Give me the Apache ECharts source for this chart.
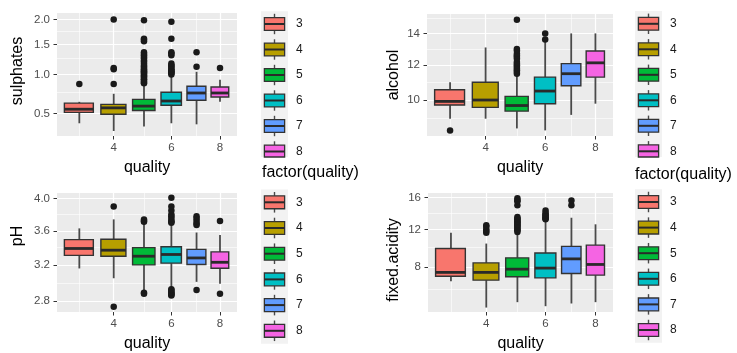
<!DOCTYPE html>
<html>
<head>
<meta charset="utf-8">
<script src="https://cdn.jsdelivr.net/npm/echarts@6/dist/echarts.min.js"></script>
<style>
  html, body { margin: 0; padding: 0; background: #fff; }
  #main { width: 737px; height: 353px; }
</style>
</head>
<body>
<div id="main"></div>
<script>
// quality groups and their ggplot hue colours
const qualities = [3, 4, 5, 6, 7, 8];
const boxColors = ['#F8766D', '#B79F00', '#00BA38', '#00BFC4', '#619CFF', '#F564E3'];
const qualityBreaks = [4, 6, 8];
const qualityMinor = [3, 5, 7];

// box stats per quality: [lower whisker, Q1, median, Q3, upper whisker]
const sulphatesBox = [
  [0.40, 0.51, 0.545, 0.615, 0.63],
  [0.33, 0.49, 0.56, 0.60, 0.73],
  [0.37, 0.53, 0.58, 0.66, 0.85],
  [0.40, 0.59, 0.64, 0.75, 0.97],
  [0.39, 0.65, 0.74, 0.83, 1.04],
  [0.63, 0.69, 0.74, 0.82, 0.92]
];
// outliers: [quality, value]
const sulphatesOut = [
  [3, 0.86],
  [4, 0.86], [4, 1.08], [4, 1.10], [4, 2.0],
  [5, 0.87], [5, 0.88], [5, 0.90], [5, 0.92], [5, 0.93], [5, 0.95], [5, 0.97], [5, 0.98],
  [5, 1.00], [5, 1.02], [5, 1.03], [5, 1.05], [5, 1.06], [5, 1.08], [5, 1.10], [5, 1.12],
  [5, 1.14], [5, 1.17], [5, 1.20], [5, 1.22], [5, 1.26], [5, 1.28], [5, 1.31], [5, 1.33],
  [5, 1.36], [5, 1.56], [5, 1.59], [5, 1.61], [5, 1.98],
  [6, 1.00], [6, 1.02], [6, 1.03], [6, 1.05], [6, 1.06], [6, 1.08], [6, 1.10], [6, 1.13],
  [6, 1.14], [6, 1.17], [6, 1.31], [6, 1.34], [6, 1.36], [6, 1.61], [6, 1.95],
  [7, 1.12], [7, 1.36],
  [8, 1.10]
];
const alcoholBox = [
  [9.0, 9.725, 9.925, 10.575, 11.0],
  [9.0, 9.6, 10.0, 11.0, 13.1],
  [8.5, 9.4, 9.7, 10.2, 11.4],
  [8.4, 9.8, 10.5, 11.3, 13.5],
  [9.2, 10.8, 11.5, 12.1, 14.0],
  [9.8, 11.3, 12.15, 12.88, 14.0]
];
const alcoholOut = [
  [3, 8.4],
  [5, 11.5], [5, 11.6], [5, 11.7], [5, 11.8], [5, 11.9], [5, 12.0], [5, 12.1], [5, 12.2],
  [5, 12.4], [5, 12.5], [5, 12.6], [5, 12.7], [5, 12.9], [5, 13.0], [5, 14.9],
  [6, 13.6], [6, 14.0]
];
const phBox = [
  [3.16, 3.31, 3.39, 3.495, 3.63],
  [3.05, 3.30, 3.37, 3.50, 3.74],
  [2.92, 3.20, 3.30, 3.40, 3.70],
  [2.94, 3.22, 3.32, 3.41, 3.69],
  [3.01, 3.205, 3.28, 3.38, 3.58],
  [2.99, 3.1625, 3.23, 3.35, 3.55]
];
const phOut = [
  [4, 2.74], [4, 3.90],
  [5, 2.88], [5, 2.89], [5, 3.71], [5, 3.72], [5, 3.74],
  [6, 2.86], [6, 2.87], [6, 2.88], [6, 2.89], [6, 2.90], [6, 2.92], [6, 2.93],
  [6, 3.70], [6, 3.71], [6, 3.72], [6, 3.75], [6, 3.78], [6, 3.80], [6, 3.85], [6, 3.90], [6, 4.01],
  [7, 2.92], [7, 3.67], [7, 3.69], [7, 3.72], [7, 3.75], [7, 3.78],
  [8, 2.88], [8, 3.72]
];
const acidityBox = [
  [6.7, 7.15, 7.5, 9.875, 11.6],
  [4.6, 6.8, 7.5, 8.4, 10.4],
  [5.0, 7.1, 7.8, 8.9, 11.6],
  [4.7, 7.0, 7.9, 9.4, 13.0],
  [4.9, 7.4, 8.8, 10.1, 13.4],
  [5.0, 7.25, 8.25, 10.225, 12.6]
];
const acidityOut = [
  [4, 11.6], [4, 11.8], [4, 12.0], [4, 12.3], [4, 12.5],
  [5, 11.7], [5, 11.9], [5, 12.0], [5, 12.2], [5, 12.3], [5, 12.5], [5, 12.6], [5, 12.8],
  [5, 12.9], [5, 13.0], [5, 13.2], [5, 13.3], [5, 13.5], [5, 15.0], [5, 15.5], [5, 15.6], [5, 15.9],
  [6, 13.2], [6, 13.3], [6, 13.4], [6, 13.5], [6, 13.7], [6, 13.8], [6, 14.0], [6, 14.3],
  [7, 15.0], [7, 15.6]
];

// y breaks (major / minor) and limits, in data units
const sulphatesBreaks = [0.5, 1.0, 1.5, 2.0];
const sulphatesMinor = [0.75, 1.25, 1.75];
const alcoholBreaks = [10, 12, 14];
const alcoholMinor = [9, 11, 13, 15];
const phBreaks = [2.8, 3.2, 3.6, 4.0];
const phMinor = [3.0, 3.4, 3.8];
const acidityBreaks = [8, 12, 16];
const acidityMinor = [6, 10, 14];

const FONT = '"Liberation Sans", Arial, Helvetica, sans-serif';
const boxHalf = 0.39;
const xMin = 1.558, xMax = 2.961;   // sqrt(quality) limits

const panels = [
  { title: 'sulphates', box: sulphatesBox, out: sulphatesOut, lim: [0.288, 2.138],
    breaks: sulphatesBreaks, minor: sulphatesMinor, dec: 1,
    grid: { left: 57, top: 13, width: 180, height: 123 }, titleAt: [18, 71] },
  { title: 'alcohol', box: alcoholBox, out: alcoholOut, lim: [8.12, 15.29],
    breaks: alcoholBreaks, minor: alcoholMinor, dec: 0,
    grid: { left: 427, top: 14, width: 186, height: 122 }, titleAt: [394, 75] },
  { title: 'pH', box: phBox, out: phOut, lim: [2.686, 4.072],
    breaks: phBreaks, minor: phMinor, dec: 1,
    grid: { left: 57, top: 193, width: 180, height: 121 }, titleAt: [18, 236] },
  { title: 'fixed.acidity', box: acidityBox, out: acidityOut, lim: [4.285, 16.63],
    breaks: acidityBreaks, minor: acidityMinor, dec: 0,
    grid: { left: 428, top: 193, width: 185, height: 121 }, titleAt: [394, 260] }
];

function renderBox(params, api) {
  const q = api.value(0);
  const pt = (x, y) => api.coord([Math.sqrt(x), Math.sqrt(y)]);
  const lo = pt(q, api.value(1));
  const q1 = pt(q + boxHalf, api.value(2));
  const medL = pt(q - boxHalf, api.value(3));
  const medR = pt(q + boxHalf, api.value(3));
  const q3 = pt(q - boxHalf, api.value(4));
  const hi = pt(q, api.value(5));
  const whisker = { stroke: '#4A4A4A', lineWidth: 1.8 };
  return {
    type: 'group',
    children: [
      { type: 'line', shape: { x1: hi[0], y1: hi[1], x2: hi[0], y2: q3[1] }, style: whisker },
      { type: 'line', shape: { x1: lo[0], y1: q1[1], x2: lo[0], y2: lo[1] }, style: whisker },
      { type: 'rect', shape: { x: q3[0], y: q3[1], width: q1[0] - q3[0], height: q1[1] - q3[1] },
        style: { fill: boxColors[params.dataIndex], stroke: '#333333', lineWidth: 1.4 } },
      { type: 'line', shape: { x1: medL[0], y1: medL[1], x2: medR[0], y2: medR[1] },
        style: { stroke: '#2A2A2A', lineWidth: 2.8 } }
    ]
  };
}

const grid = [], xAxis = [], yAxis = [], series = [], graphic = [];

panels.forEach(function (p, i) {
  grid.push(Object.assign({ show: true, backgroundColor: '#EBEBEB', borderWidth: 0 }, p.grid));
  const fmt = v => (v * v).toFixed(p.dec);
  xAxis.push({
    type: 'value', gridIndex: i, min: xMin, max: xMax,
    name: 'quality', nameLocation: 'middle', nameGap: 24,
    nameTextStyle: { fontSize: 16, color: '#000', fontFamily: FONT },
    axisLine: { show: false },
    axisTick: { length: 3.5, lineStyle: { color: '#333333' }, customValues: qualityBreaks.map(Math.sqrt) },
    axisLabel: { customValues: qualityBreaks.map(Math.sqrt), formatter: v => String(Math.round(v * v)),
      color: '#4D4D4D', fontSize: 11.5, margin: 6, fontFamily: FONT },
    splitLine: { show: true, lineStyle: { color: '#FFFFFF', width: 1.2 } }
  });
  xAxis.push({
    type: 'value', gridIndex: i, min: xMin, max: xMax,
    axisLine: { show: false }, axisLabel: { show: false },
    axisTick: { show: false, customValues: qualityMinor.map(Math.sqrt) },
    splitLine: { show: true, lineStyle: { color: '#FFFFFF', width: 0.6 } }
  });
  yAxis.push({
    type: 'value', gridIndex: i, min: Math.sqrt(p.lim[0]), max: Math.sqrt(p.lim[1]),
    axisLine: { show: false },
    axisTick: { length: 3.5, lineStyle: { color: '#333333' }, customValues: p.breaks.map(Math.sqrt) },
    axisLabel: { customValues: p.breaks.map(Math.sqrt), formatter: fmt,
      color: '#4D4D4D', fontSize: 11.5, margin: 7, fontFamily: FONT },
    splitLine: { show: true, lineStyle: { color: '#FFFFFF', width: 1.2 } }
  });
  yAxis.push({
    type: 'value', gridIndex: i, position: 'left',
    min: Math.sqrt(p.lim[0]), max: Math.sqrt(p.lim[1]),
    axisLine: { show: false }, axisLabel: { show: false },
    axisTick: { show: false, customValues: p.minor.map(Math.sqrt) },
    splitLine: { show: true, lineStyle: { color: '#FFFFFF', width: 0.6 } }
  });
  series.push({
    type: 'custom', xAxisIndex: 2 * i, yAxisIndex: 2 * i,
    renderItem: renderBox, silent: true,
    data: qualities.map((q, k) => [q].concat(p.box[k]))
  });
  series.push({
    type: 'scatter', xAxisIndex: 2 * i, yAxisIndex: 2 * i, silent: true,
    symbolSize: 6.5, itemStyle: { color: '#1A1A1A', opacity: 1 }, z: 3,
    data: p.out.map(d => [Math.sqrt(d[0]), Math.sqrt(d[1])])
  });
  graphic.push({
    type: 'text', x: p.titleAt[0], y: p.titleAt[1], rotation: Math.PI / 2,
    style: { text: p.title, fill: '#000', align: 'center', verticalAlign: 'middle', font: '16px ' + FONT }
  });
});

// ggplot-style legend keys, drawn as plain shapes
function legend(cellX, firstY, step, clipY) {
  const cellW = 27;
  const last = firstY + step * (qualities.length - 1) + step / 2;
  const top = firstY - step / 2;
  graphic.push({ type: 'rect', shape: { x: cellX, y: top, width: cellW, height: Math.min(last, clipY) - top },
    style: { fill: '#F2F2F2' }, z: 1 });
  qualities.forEach(function (q, k) {
    const cy = firstY + step * k;
    const cx = cellX + cellW / 2;
    const bx = cellX + cellW * 0.125, bw = cellW * 0.75;
    const c = v => Math.min(v, clipY);
    const s = { stroke: '#4A4A4A', lineWidth: 1.4 };
    graphic.push({ type: 'line', shape: { x1: cx, y1: cy - step * 0.4, x2: cx, y2: cy - step * 0.25 }, style: s, z: 2 });
    if (cy + step * 0.25 < clipY) {
      graphic.push({ type: 'line', shape: { x1: cx, y1: cy + step * 0.25, x2: cx, y2: c(cy + step * 0.4) }, style: s, z: 2 });
    }
    graphic.push({ type: 'rect', shape: { x: bx, y: cy - step * 0.25, width: bw, height: c(cy + step * 0.25) - (cy - step * 0.25) },
      style: { fill: boxColors[k], stroke: '#333333', lineWidth: 1.3 }, z: 2 });
    if (cy < clipY) {
      graphic.push({ type: 'line', shape: { x1: bx, y1: cy, x2: bx + bw, y2: cy }, style: { stroke: '#2A2A2A', lineWidth: 2 }, z: 3 });
    }
    graphic.push({ type: 'text', x: cellX + 35, y: cy,
      style: { text: String(q), font: '12px ' + FONT, fill: '#1A1A1A', verticalAlign: 'middle' }, z: 2 });
  });
}

legend(261, 24, 25.5, 157);
legend(261, 202.3, 25.7, 999);
legend(635, 23.8, 25.5, 157);
legend(635, 202, 25.6, 999);

graphic.push({ type: 'text', x: 262, y: 173, style: { text: 'factor(quality)', font: '16px ' + FONT, fill: '#000', verticalAlign: 'middle' } });
graphic.push({ type: 'text', x: 635, y: 175, style: { text: 'factor(quality)', font: '16px ' + FONT, fill: '#000', verticalAlign: 'middle' } });

const chart = echarts.init(document.getElementById('main'));
chart.setOption({
  animation: false,
  textStyle: { fontFamily: FONT },
  grid: grid,
  xAxis: xAxis,
  yAxis: yAxis,
  series: series,
  graphic: graphic
});
</script>
</body>
</html>
